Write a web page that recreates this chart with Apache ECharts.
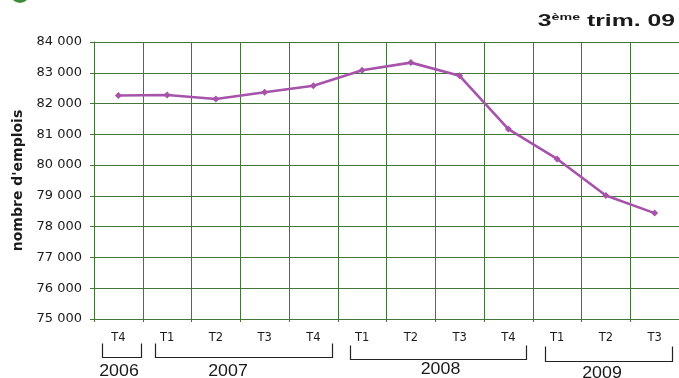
<!DOCTYPE html>
<html>
<head>
<meta charset="utf-8">
<script src="https://cdn.jsdelivr.net/npm/echarts@6/dist/echarts.min.js"></script>
<style>
  html, body { margin: 0; padding: 0; background: #fff; }
  #chart { width: 679px; height: 378px; }
</style>
</head>
<body>
<div id="chart"></div>
<script>
// Quarterly employment count, Q4 2006 – Q3 2009
const quarters = ['T4', 'T1', 'T2', 'T3', 'T4', 'T1', 'T2', 'T3', 'T4', 'T1', 'T2', 'T3'];
const emplois = [82260, 82280, 82150, 82370, 82580, 83080, 83330, 82900, 81170, 80200, 79010, 78440];
const yTicks = { min: 75000, max: 84000, step: 1000 };
// Year brackets under the quarter labels: first and last quarter index of each year
const years = [
  { label: '2006', from: 0, to: 0 },
  { label: '2007', from: 1, to: 4 },
  { label: '2008', from: 5, to: 8 },
  { label: '2009', from: 9, to: 11 }
];

// Bracket drawing layout (per year group): vertical extents, label top and horizontal nudge
const bracketLayout = [
  { top: 343.5, bottom: 357.5, labelTop: 363, padL: 0.34, padR: 0.46, dx: -3 },
  { top: 343.5, bottom: 357.5, labelTop: 363, padL: 0.25, padR: 0.39, dx: -16 },
  { top: 345.5, bottom: 359.5, labelTop: 361, padL: 0.24, padR: 0.37, dx: 2 },
  { top: 346.5, bottom: 361.5, labelTop: 365, padL: 0.24, padR: 0.36, dx: -7 }
];

const GRID_GREEN = '#44763a';
const LINE_PURPLE = '#a653a9';
const FONT = 'Liberation Sans, Arial, sans-serif';
const WIDE = 'DejaVu Sans, Liberation Sans, sans-serif';
const INK = '#1a1a1a';

const chart = echarts.init(document.getElementById('chart'), null, { renderer: 'canvas' });

const fmt = v => {
  const s = String(v);
  return s.length > 3 ? s.slice(0, s.length - 3) + ' ' + s.slice(-3) : s;
};

chart.setOption({
  animation: false,
  backgroundColor: '#ffffff',
  grid: { left: 94, top: 42, width: 587, height: 277, containLabel: false },
  xAxis: {
    type: 'category',
    data: quarters,
    boundaryGap: true,
    axisLine: { show: true, lineStyle: { color: GRID_GREEN, width: 1 } },
    axisTick: { show: true, length: 3, lineStyle: { color: GRID_GREEN } },
    axisLabel: { color: INK, fontFamily: WIDE, fontSize: 11.5, margin: 13 },
    splitLine: { show: true, lineStyle: { color: GRID_GREEN, width: 1 } }
  },
  yAxis: {
    type: 'value',
    min: yTicks.min,
    max: yTicks.max,
    interval: yTicks.step,
    name: "nombre d'emplois",
    nameLocation: 'middle',
    nameRotate: 90,
    nameGap: 69,
    nameTextStyle: { color: INK, fontFamily: WIDE, fontSize: 14, fontWeight: 'bold' },
    axisLine: { show: true, lineStyle: { color: GRID_GREEN, width: 1 } },
    axisTick: { show: true, length: 4, lineStyle: { color: GRID_GREEN } },
    axisLabel: { color: INK, fontFamily: WIDE, fontSize: 13, margin: 12, formatter: fmt },
    splitLine: { show: true, lineStyle: { color: GRID_GREEN, width: 1 } }
  },
  series: [{
    type: 'line',
    data: emplois,
    symbol: 'diamond',
    symbolSize: 7,
    lineStyle: { color: LINE_PURPLE, width: 2.6 },
    itemStyle: { color: LINE_PURPLE },
    z: 5
  }]
});

// Decorations: corner badge, period title, year brackets placed from the category axis
const band = chart.convertToPixel({ xAxisIndex: 0 }, 1) - chart.convertToPixel({ xAxisIndex: 0 }, 0);
const graphics = [
  {
    type: 'circle',
    shape: { cx: 20, cy: -7, r: 10 },
    style: { fill: '#3d8c3a' }
  },
  {
    type: 'text',
    x: 675,
    y: 12,
    scaleX: 1.5,
    style: {
      text: '{n|3}{sup|ème}{n| trim. 09}',
      align: 'right',
      verticalAlign: 'top',
      rich: {
        n: { fontFamily: FONT, fontSize: 16.5, fontWeight: 'bold', fill: INK, lineHeight: 18, verticalAlign: 'bottom' },
        sup: { fontFamily: FONT, fontSize: 9.5, fontWeight: 'bold', fill: INK, lineHeight: 18, verticalAlign: 'top', padding: [0, 0, 6, 0] }
      }
    }
  }
];
years.forEach((y, i) => {
  const L = bracketLayout[i];
  const xFrom = chart.convertToPixel({ xAxisIndex: 0 }, y.from);
  const xTo = chart.convertToPixel({ xAxisIndex: 0 }, y.to);
  const left = Math.round(xFrom - L.padL * band) + 0.5;
  const right = Math.round(xTo + L.padR * band) + 0.5;
  graphics.push({
    type: 'polyline',
    shape: { points: [[left, L.top], [left, L.bottom], [right, L.bottom], [right, L.top]] },
    style: { stroke: '#222', lineWidth: 1.2, fill: null }
  });
  graphics.push({
    type: 'text',
    x: (left + right) / 2 + L.dx,
    y: L.labelTop,
    scaleX: 1.08,
    style: {
      text: y.label,
      fontFamily: FONT,
      fontSize: 16.5,
      fill: INK,
      align: 'center',
      verticalAlign: 'top'
    }
  });
});
chart.setOption({ graphic: graphics });
</script>
</body>
</html>
